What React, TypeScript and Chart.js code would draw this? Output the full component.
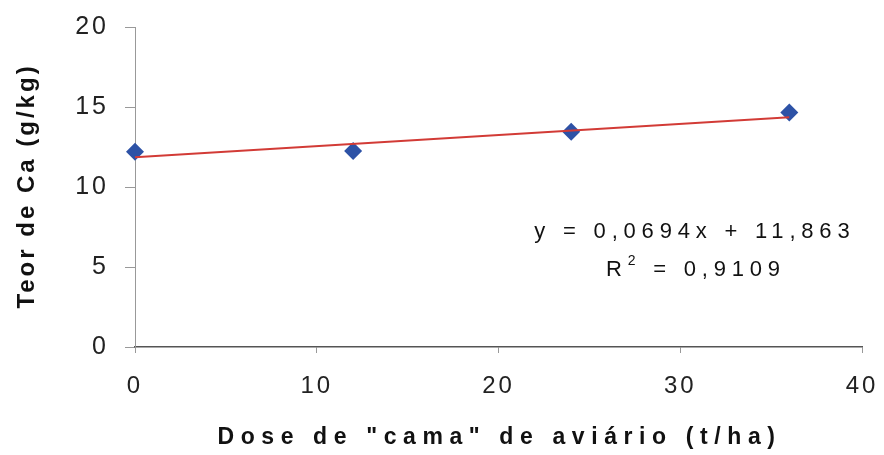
import { useEffect, useRef } from "react";
import { Chart, registerables } from "chart.js";

Chart.register(...registerables);

// ---- data ----
const doses = [0, 12, 24, 36];
const caValues = [12.2, 12.25, 13.45, 14.65];
const trendSlope = 0.0694;
const trendIntercept = 11.863;
const trendX = [0, 36];
const xTickValues = [0, 10, 20, 30, 40];
const yTickValues = [0, 5, 10, 15, 20];
const xTitle = 'Dose de "cama" de aviário (t/ha)';
const yTitle = "Teor de Ca (g/kg)";
const equationText = "y = 0,0694x + 11,863";
const r2Text = "0,9109";

const FONT = "'Liberation Sans', Arial, sans-serif";

const textPlugin = {
  id: "textPlugin",
  beforeDraw(chart: any) {
    chart.ctx.letterSpacing = "3px";
  },
  afterDraw(chart: any) {
    const ctx = chart.ctx as CanvasRenderingContext2D;
    const area = chart.chartArea;
    ctx.save();
    ctx.fillStyle = "#111";
    ctx.textBaseline = "middle";

    // x title
    ctx.font = `bold 23px ${FONT}`;
    (ctx as any).letterSpacing = "6.6px";
    ctx.textAlign = "left";
    let w = ctx.measureText(xTitle).width;
    ctx.fillText(xTitle, (215 + 784) / 2 - w / 2, 438);

    // y title
    ctx.save();
    ctx.font = `bold 24px ${FONT}`;
    (ctx as any).letterSpacing = "3px";
    ctx.translate(27, 186);
    ctx.rotate(-Math.PI / 2);
    w = ctx.measureText(yTitle).width;
    ctx.fillText(yTitle, -w / 2, 0);
    ctx.restore();

    // equation
    ctx.font = `22px ${FONT}`;
    (ctx as any).letterSpacing = "5.8px";
    const cx = area.left + (area.right - area.left) * 0.766;
    w = ctx.measureText(equationText).width;
    ctx.fillText(equationText, cx - w / 2 + 3, 232);

    // R^2 line
    const partR = "R";
    const partRest = " = " + r2Text;
    (ctx as any).letterSpacing = "5.8px";
    ctx.font = `22px ${FONT}`;
    const wR = ctx.measureText(partR).width;
    const wRest = ctx.measureText(partRest).width;
    ctx.font = `14px ${FONT}`;
    const wSup = ctx.measureText("2").width;
    const total = wR + wSup + wRest;
    let x0 = cx - total / 2 + 4;
    ctx.font = `22px ${FONT}`;
    ctx.fillText(partR, x0, 270);
    x0 += wR;
    ctx.font = `14px ${FONT}`;
    ctx.fillText("2", x0, 261);
    x0 += wSup;
    ctx.font = `22px ${FONT}`;
    ctx.fillText(partRest, x0, 270);

    ctx.restore();
  },
};

export default function App() {
  const canvasRef = useRef<HTMLCanvasElement | null>(null);

  useEffect(() => {
    document.body.style.margin = "0";
    const canvas = canvasRef.current;
    if (!canvas) return;

    const trendData = trendX.map((x) => ({ x, y: trendIntercept + trendSlope * x }));
    const pointData = doses.map((x, i) => ({ x, y: caValues[i] }));

    const chart = new Chart(canvas, {
      type: "scatter",
      data: {
        datasets: [
          {
            type: "line",
            label: "Tendência",
            data: trendData,
            borderColor: "#d23b36",
            borderWidth: 2,
            pointRadius: 0,
            fill: false,
            order: 0,
            clip: false,
          } as any,
          {
            label: "Teor de Ca",
            data: pointData,
            pointStyle: "rectRot",
            pointRadius: 9,
            pointHoverRadius: 9,
            backgroundColor: "#2d52a6",
            borderColor: "#2d52a6",
            borderWidth: 0,
            showLine: false,
            order: 1,
            clip: false,
          } as any,
        ],
      },
      options: {
        responsive: false,
        animation: false,
        layout: { padding: { top: 27, right: 22, left: 0, bottom: 0 } },
        plugins: {
          legend: { display: false },
          tooltip: { enabled: false },
        },
        scales: {
          x: {
            type: "linear",
            min: 0,
            max: 40,
            afterBuildTicks: (scale: any) => {
              scale.ticks = xTickValues.map((v) => ({ value: v }));
            },
            afterFit: (scale: any) => {
              scale.height = 108;
              scale.paddingLeft = 0;
              scale.paddingRight = 0;
            },
            grid: {
              display: true,
              drawOnChartArea: false,
              drawTicks: true,
              tickLength: 6,
              color: "#999",
            },
            border: { display: true, color: "#555", width: 1.5 },
            ticks: {
              color: "#222",
              font: { family: FONT, size: 24 },
              padding: 19,
              maxRotation: 0,
            },
          },
          y: {
            type: "linear",
            min: 0,
            max: 20,
            afterBuildTicks: (scale: any) => {
              scale.ticks = yTickValues.map((v) => ({ value: v }));
            },
            afterFit: (scale: any) => {
              scale.width = 135;
              scale.paddingTop = 0;
              scale.paddingBottom = 0;
            },
            grid: {
              display: true,
              drawOnChartArea: false,
              drawTicks: true,
              tickLength: 10,
              color: "#999",
            },
            border: { display: true, color: "#999", width: 1 },
            ticks: {
              color: "#222",
              font: { family: FONT, size: 25 },
              padding: 16,
            },
          },
        },
      },
      plugins: [textPlugin],
    });

    return () => chart.destroy();
  }, []);

  return <canvas ref={canvasRef} width={884} height={455} style={{ display: "block" }} />;
}
